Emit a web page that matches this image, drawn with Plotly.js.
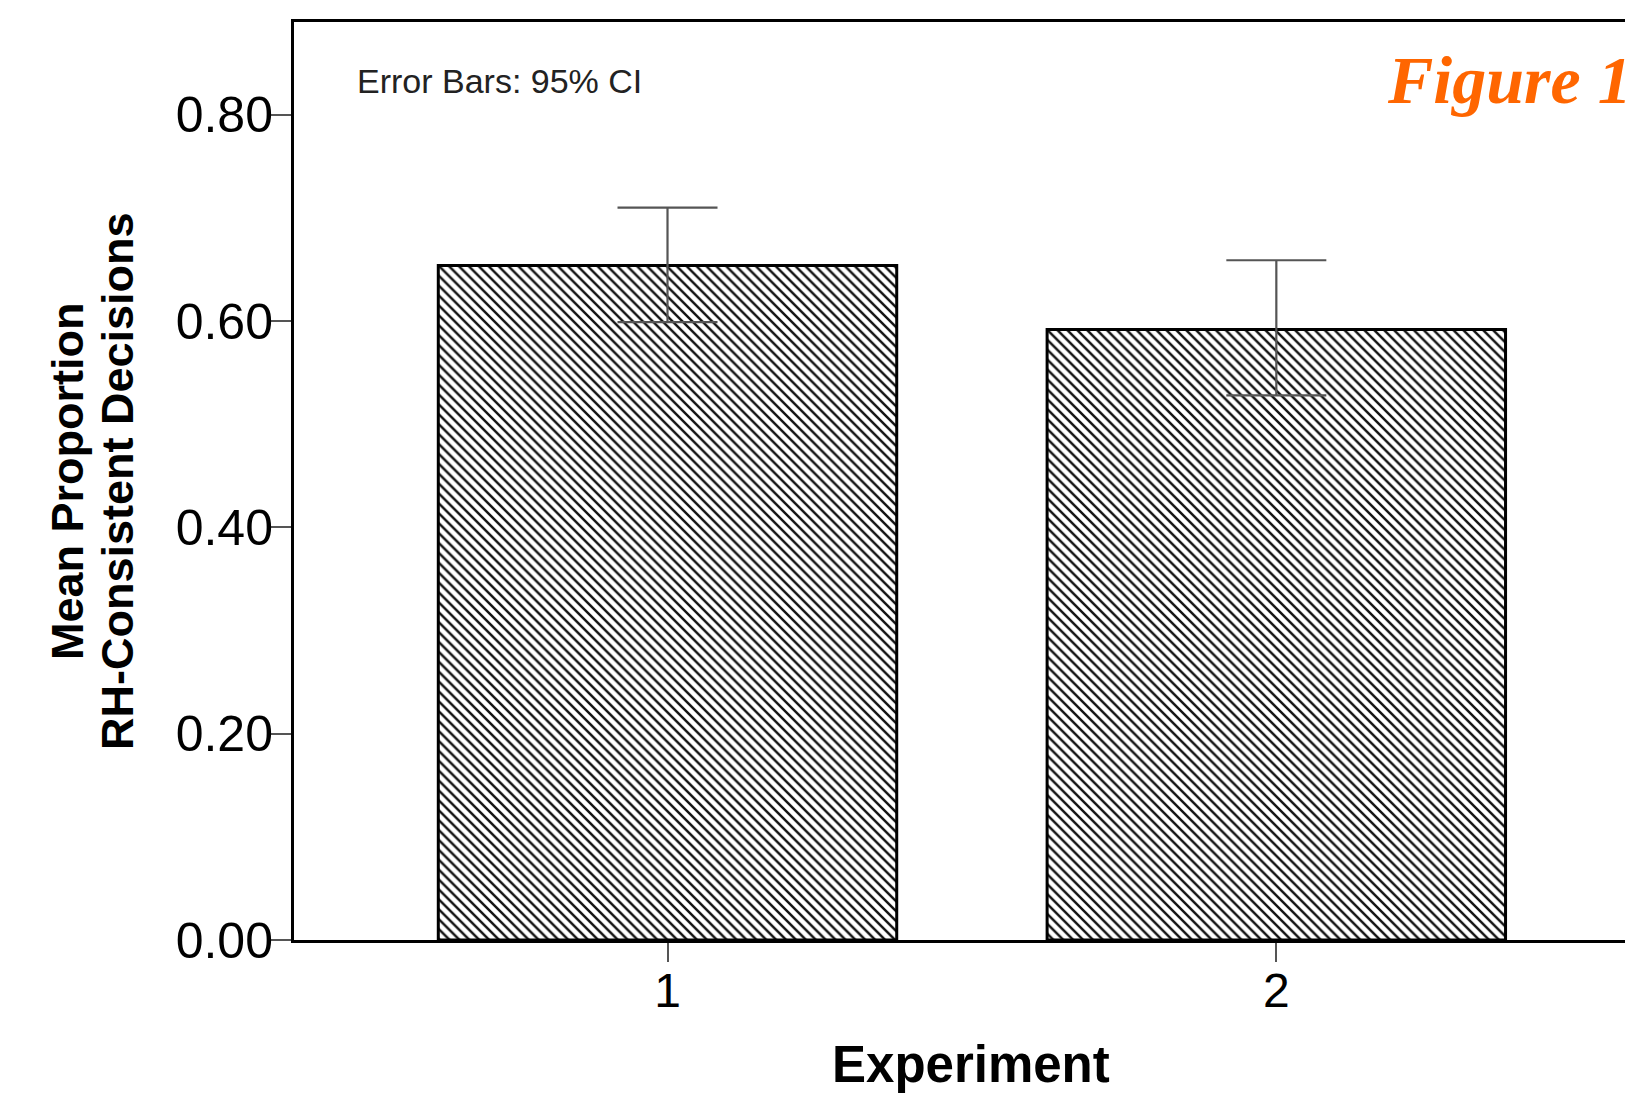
<!DOCTYPE html>
<html>
<head>
<meta charset="utf-8">
<script src="https://cdn.plot.ly/plotly-3.0.1.min.js"></script>
<style>html,body{margin:0;padding:0;background:#fff;}#chart{width:1625px;height:1095px;}</style>
</head>
<body>
<div id="chart"></div>
<script>
const experiments = [1, 2];
const meanProportion = [0.654, 0.592];
const ciUpper = [0.710, 0.659];
const ciLower = [0.599, 0.528];
const yTickValues = [0, 0.2, 0.4, 0.6, 0.8];
const yTickLabels = ['0.00', '0.20', '0.40', '0.60', '0.80'];
const xTickLabels = ['1', '2'];

const errPlus = meanProportion.map((m, i) => ciUpper[i] - m);
const errMinus = meanProportion.map((m, i) => m - ciLower[i]);

const trace = {
  type: 'bar',
  x: experiments,
  y: meanProportion,
  marker: {
    color: '#ffffff',
    line: {color: '#000000', width: 3},
    pattern: {shape: '\\', fgcolor: '#111111', bgcolor: '#ffffff', size: 7, solidity: 0.35}
  },
  error_y: {
    type: 'data', symmetric: false,
    array: errPlus, arrayminus: errMinus,
    color: '#555555', thickness: 2.2, width: 50
  },
  hoverinfo: 'skip'
};

const sans = 'Liberation Sans, Arial, sans-serif';

const layout = {
  width: 1625, height: 1095,
  margin: {l: 294, r: 0, t: 22, b: 155},
  paper_bgcolor: '#ffffff', plot_bgcolor: '#ffffff',
  showlegend: false,
  bargap: 0.247,
  xaxis: {
    range: [0.3865, 2.5727],
    tickvals: experiments, ticktext: xTickLabels,
    ticks: 'outside', ticklen: 19, tickwidth: 2, tickcolor: '#555555',
    showline: true, linecolor: '#000000', linewidth: 3, mirror: true,
    showgrid: false, zeroline: false,
    tickfont: {family: sans, size: 48, color: '#000000'},
    ticklabelstandoff: -13
  },
  yaxis: {
    range: [0, 0.89],
    tickvals: yTickValues, ticktext: yTickLabels,
    ticks: 'outside', ticklen: 23, tickwidth: 2, tickcolor: '#555555',
    showline: true, linecolor: '#000000', linewidth: 3,
    showgrid: false, zeroline: false,
    tickfont: {family: sans, size: 50, color: '#000000'},
    ticklabelstandoff: -15
  },
  annotations: [
    {text: 'Error Bars: 95% CI', xref: 'paper', yref: 'paper', x: 0.0458, y: 0.9357,
     xanchor: 'left', yanchor: 'middle', showarrow: false,
     font: {family: sans, size: 34, color: '#222222'}},
    {text: 'Figure 1', xref: 'paper', yref: 'paper', x: 0.8195, y: 0.9368,
     xanchor: 'left', yanchor: 'middle', showarrow: false,
     font: {family: 'Liberation Serif, Times New Roman, serif', size: 68, color: '#ff6600', weight: 'bold', style: 'italic'}},
    {text: 'Experiment', xref: 'paper', yref: 'paper', x: 0.509, y: (940 - 1064) / 918,
     xanchor: 'center', yanchor: 'middle', showarrow: false,
     font: {family: sans, size: 51, color: '#000000', weight: 'bold'}},
    {text: 'Mean Proportion', xref: 'paper', yref: 'paper', x: (67 - 294) / 1331, y: 0.5,
     xanchor: 'center', yanchor: 'middle', showarrow: false, textangle: -90,
     font: {family: sans, size: 45, color: '#000000', weight: 'bold'}},
    {text: 'RH-Consistent Decisions', xref: 'paper', yref: 'paper', x: (117 - 294) / 1331, y: 0.5,
     xanchor: 'center', yanchor: 'middle', showarrow: false, textangle: -90,
     font: {family: sans, size: 45, color: '#000000', weight: 'bold'}}
  ]
};

Plotly.newPlot('chart', [trace], layout, {staticPlot: true, displayModeBar: false});
</script>
</body>
</html>
